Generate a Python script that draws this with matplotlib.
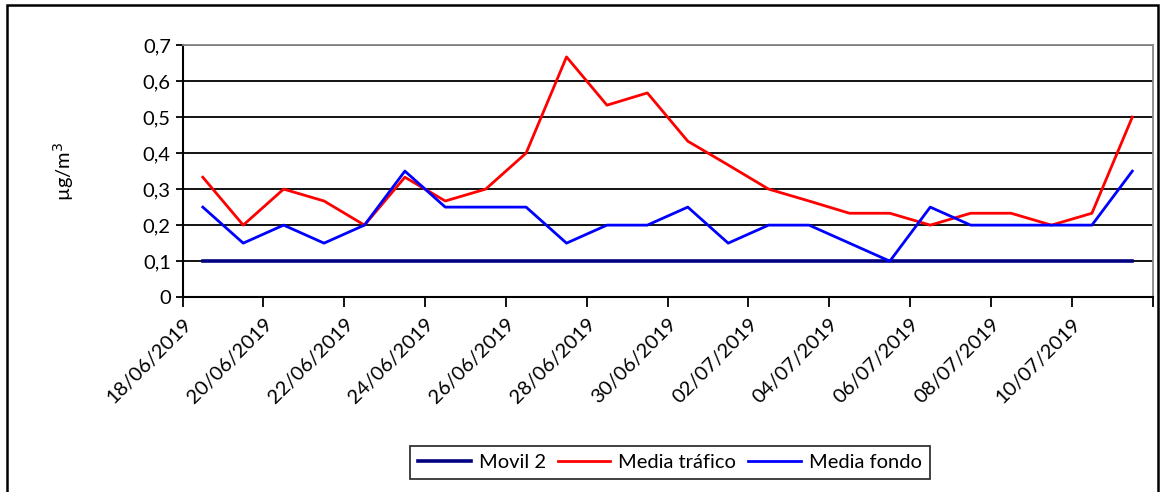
import numpy as np
import matplotlib
matplotlib.use("Agg")
from matplotlib import pyplot as plt
from matplotlib.patches import Rectangle
from matplotlib.transforms import ScaledTranslation

dates = ["18/06/2019", "19/06/2019", "20/06/2019", "21/06/2019", "22/06/2019",
         "23/06/2019", "24/06/2019", "25/06/2019", "26/06/2019", "27/06/2019",
         "28/06/2019", "29/06/2019", "30/06/2019", "01/07/2019", "02/07/2019",
         "03/07/2019", "04/07/2019", "05/07/2019", "06/07/2019", "07/07/2019",
         "08/07/2019", "09/07/2019", "10/07/2019", "11/07/2019"]
movil2 = [0.1] * 24
media_trafico = [0.333, 0.2, 0.3, 0.267, 0.2, 0.333, 0.267, 0.3, 0.4, 0.667,
                 0.533, 0.567, 0.433, 0.367, 0.3, 0.267, 0.233, 0.233, 0.2,
                 0.233, 0.233, 0.2, 0.233, 0.5]
media_fondo = [0.25, 0.15, 0.2, 0.15, 0.2, 0.35, 0.25, 0.25, 0.25, 0.15,
               0.2, 0.2, 0.25, 0.15, 0.2, 0.2, 0.15, 0.1, 0.25, 0.2,
               0.2, 0.2, 0.2, 0.35]
yticks = [0, 0.1, 0.2, 0.3, 0.4, 0.5, 0.6, 0.7]

plt.rcParams["font.family"] = ["Lato", "DejaVu Sans"]

fig = plt.figure(figsize=(11.63, 4.92), dpi=100)
fig.patches.append(Rectangle((0.006, -0.05), 0.99, 1.04, transform=fig.transFigure,
                             fill=False, edgecolor="black", linewidth=1.8))
ax = fig.add_axes([0.157, 0.396, 0.834, 0.5125])

x = np.arange(len(dates)) + 0.5
ax.plot(x, movil2, color="#000080", lw=2.6, label="Movil 2", zorder=3)
ax.plot(x, media_trafico, color="#ff0000", lw=2.0, label="Media tráfico", zorder=4)
ax.plot(x, media_fondo, color="#0000ff", lw=2.0, label="Media fondo", zorder=5)

ax.set_xlim(0, len(dates))
ax.set_ylim(0, 0.7)
ax.set_yticks(yticks)
ax.set_yticklabels([f"{v:.1f}".replace(".", ",") if v else "0" for v in yticks],
                   fontsize=14.5)
ax.yaxis.grid(True, color="black", lw=1.3)
ax.set_axisbelow(True)

ticks = np.arange(0, len(dates) + 1, 2)
ax.set_xticks(ticks)
ax.set_xticklabels([dates[i] if i < len(dates) else "" for i in ticks],
                   rotation=45, ha="right", va="top", rotation_mode="anchor",
                   fontsize=14.5)
shift = ScaledTranslation(9 / 72, -4 / 72, fig.dpi_scale_trans)
for lbl in ax.get_xticklabels():
    lbl.set_transform(lbl.get_transform() + shift)
ax.tick_params(axis="x", length=7, width=1.3, pad=6)
ax.tick_params(axis="y", length=5, width=1.3)

for side in ["left", "bottom"]:
    ax.spines[side].set_linewidth(1.5)
for side in ["top", "right"]:
    ax.spines[side].set_color("#888888")
    ax.spines[side].set_linewidth(1.3)

ax.set_ylabel("µg/m$^3$", fontsize=14.5, labelpad=48)

leg = fig.legend(loc="lower center", bbox_to_anchor=(0.576, 0.005), ncol=3,
                 fontsize=14.5, frameon=True, fancybox=False, edgecolor="black",
                 handlelength=2.6, columnspacing=0.6, handletextpad=0.4,
                 borderpad=0.4)
leg.get_frame().set_linewidth(1.3)

fig.savefig("out.png", dpi=100)
